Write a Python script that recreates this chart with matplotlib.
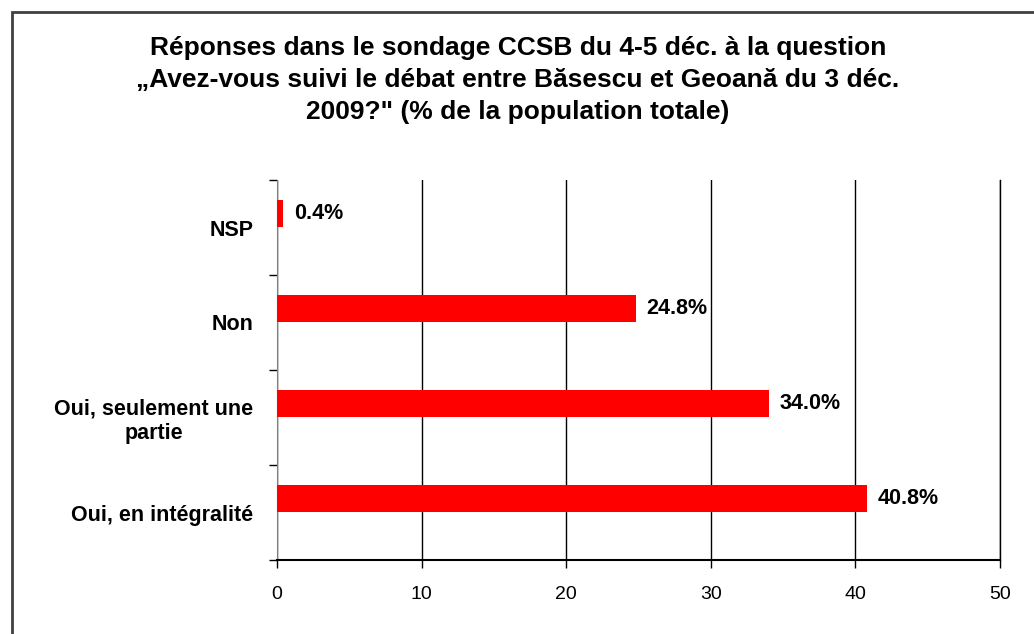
import matplotlib
matplotlib.use("Agg")
import matplotlib.pyplot as plt
from matplotlib.patches import Rectangle
import numpy as np

categories = ["Oui, en intégralité", "Oui, seulement une\npartie", "Non", "NSP"]
values = [40.8, 34.0, 24.8, 0.4]
value_labels = ["40.8%", "34.0%", "24.8%", "0.4%"]
xticks = [0, 10, 20, 30, 40, 50]
title = ("Réponses dans le sondage CCSB du 4-5 déc. à la question\n"
         "„Avez-vous suivi le débat entre Băsescu et Geoană du 3 déc.\n"
         "2009?\" (% de la population totale)")

plt.rcParams["font.family"] = ["Liberation Sans", "DejaVu Sans"]

fig = plt.figure(figsize=(10.34, 6.34), dpi=100)
fig.patches.append(Rectangle((12/1034, -0.1), 1.2, 1 - 12/634 + 0.1, transform=fig.transFigure,
                             fill=False, edgecolor="#404040", linewidth=2))
ax = fig.add_axes([277/1034, 1 - 560/634, (1000-277)/1034, (560-180)/634])

y = np.arange(len(categories))
bar_offset = 0.15
ax.barh(y + bar_offset, values, height=0.28, color="#ff0000", zorder=3)
for yi, v, lab in zip(y, values, value_labels):
    ax.text(v + 0.75, yi + bar_offset, lab, fontsize=15.5, fontweight="bold",
            va="center", ha="left", zorder=4)

ax.set_xlim(0, 50)
ax.set_ylim(-0.5, len(categories) - 0.5)
ax.set_xticks(xticks)
ax.set_xticklabels([str(t) for t in xticks], fontsize=14)
ax.set_yticks(y)
ax.set_yticklabels(categories, fontsize=15.5, fontweight="bold")
ax.set_yticks(np.arange(-0.5, len(categories)), minor=True)
ax.tick_params(axis="y", which="major", length=0, pad=17)
ax.tick_params(axis="y", which="minor", length=6, width=1, color="black")
ax.tick_params(axis="x", length=6, width=1, pad=13)
for lab in ax.get_yticklabels():
    lab.set_multialignment("center")
ax.grid(axis="x", color="black", linewidth=1, zorder=0)
ax.spines["top"].set_visible(False)
ax.spines["right"].set_color("black")
ax.spines["right"].set_linewidth(1)
ax.spines["left"].set_color("#808080")
ax.spines["bottom"].set_linewidth(1.5)

fig.text(518/1034, 1 - 80/634, title, ha="center", va="center", fontsize=19,
         fontweight="bold", linespacing=1.4)

fig.savefig("out.png", dpi=100)
